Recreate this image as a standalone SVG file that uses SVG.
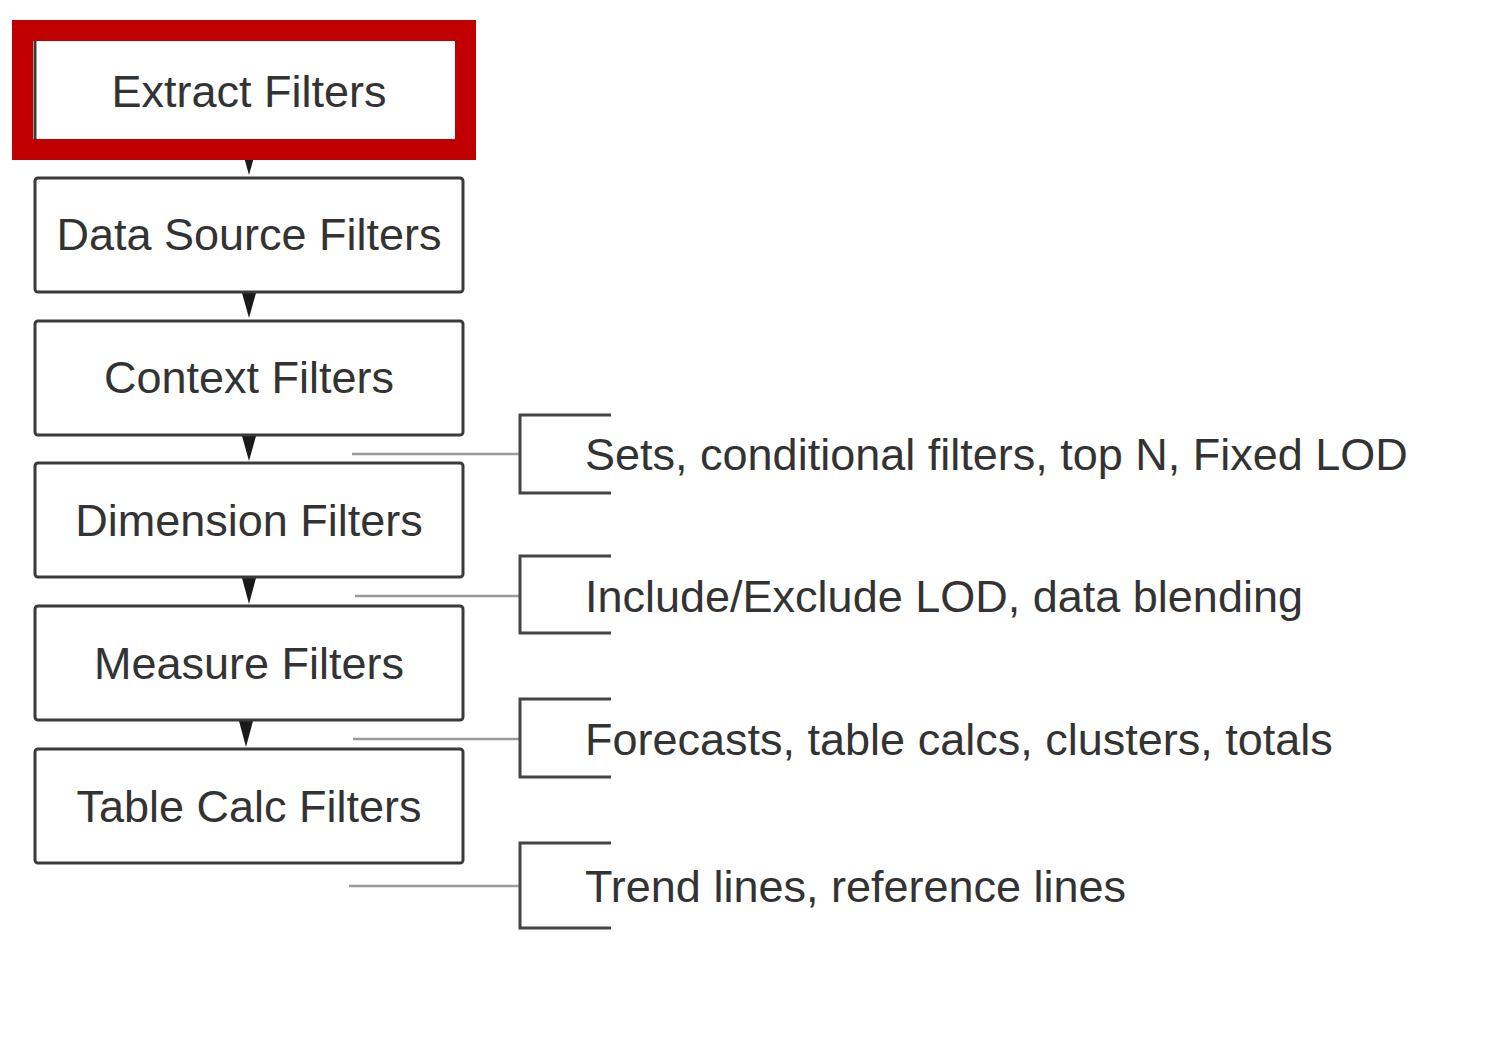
<svg xmlns="http://www.w3.org/2000/svg" width="1490" height="1040" viewBox="0 0 1490 1040">
<style>
.box{fill:#fff;stroke:#3a3a3a;stroke-width:3}
.lbl{font-family:"Liberation Sans",Arial,sans-serif;font-size:45px;fill:#333;text-anchor:middle}
.note{font-family:"Liberation Sans",Arial,sans-serif;font-size:45px;fill:#333}
.arr{fill:#1a1a1a}
.lead{stroke:#9a9a9a;stroke-width:2.5;fill:none}
.brk{stroke:#444;stroke-width:3;fill:none}
</style>
<rect width="1490" height="1040" fill="#fff"/>
<g id="connectors">
<polygon class="arr" points="242,150 256,150 249,175"/>
<polygon class="arr" points="242,293 256,293 249,318"/>
<polygon class="arr" points="242,436 256,436 249,461"/>
<polygon class="arr" points="242,578 256,578 249,604"/>
<polygon class="arr" points="239,721 253,721 246,747"/>
</g>
<g id="n1"><rect class="box" x="35" y="35" width="428" height="114" rx="3"/><text class="lbl" x="249" y="107">Extract Filters</text></g>
<g id="n2"><rect class="box" x="35" y="178" width="428" height="114" rx="3"/><text class="lbl" x="249" y="250">Data Source Filters</text></g>
<g id="n3"><rect class="box" x="35" y="321" width="428" height="114" rx="3"/><text class="lbl" x="249" y="393">Context Filters</text></g>
<g id="n4"><rect class="box" x="35" y="463" width="428" height="114" rx="3"/><text class="lbl" x="249" y="536">Dimension Filters</text></g>
<g id="n5"><rect class="box" x="35" y="606" width="428" height="114" rx="3"/><text class="lbl" x="249" y="679">Measure Filters</text></g>
<g id="n6"><rect class="box" x="35" y="749" width="428" height="114" rx="3"/><text class="lbl" x="249" y="822">Table Calc Filters</text></g>
<g id="highlight"><rect x="22.5" y="30.5" width="443" height="119" fill="none" stroke="#c00000" stroke-width="21"/></g>
<g id="b1"><line class="lead" x1="352" y1="454" x2="520" y2="454"/><path class="brk" d="M611,415 H520 V493 H611"/><text class="note" x="585" y="470">Sets, conditional filters, top N, Fixed LOD</text></g>
<g id="b2"><line class="lead" x1="355" y1="596" x2="520" y2="596"/><path class="brk" d="M611,556 H520 V633 H611"/><text class="note" x="585" y="612">Include/Exclude LOD, data blending</text></g>
<g id="b3"><line class="lead" x1="353" y1="739" x2="520" y2="739"/><path class="brk" d="M611,699 H520 V777 H611"/><text class="note" x="585" y="755">Forecasts, table calcs, clusters, totals</text></g>
<g id="b4"><line class="lead" x1="349" y1="886" x2="520" y2="886"/><path class="brk" d="M611,843 H520 V928 H611"/><text class="note" x="585" y="902">Trend lines, reference lines</text></g>
</svg>
